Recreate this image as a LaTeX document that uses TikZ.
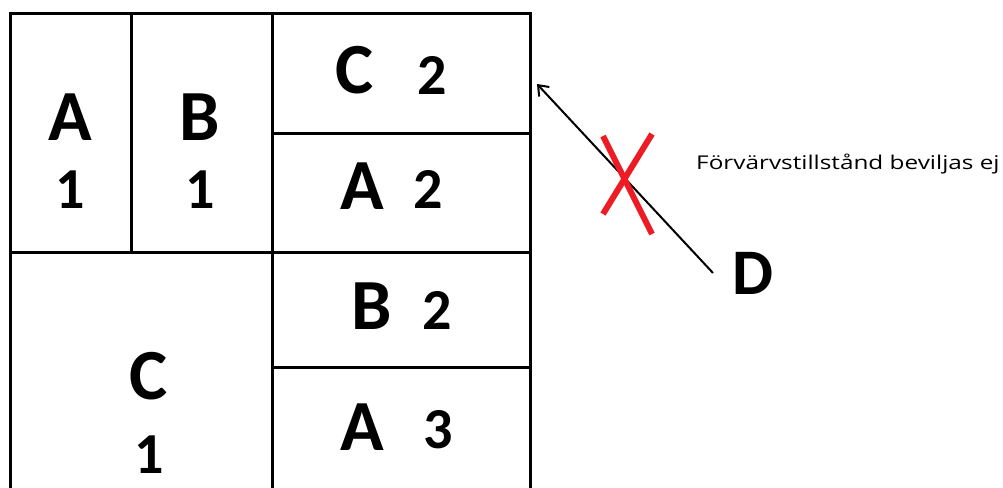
\documentclass[tikz,border=0pt]{standalone}
\usepackage{fontspec}
\usepackage{graphicx}
\setmainfont{Carlito}
\newfontfamily\notefont{Open Sans}
\usetikzlibrary{arrows.meta}
\tikzset{
  grid line/.style={line width=3pt, black},
  letter/.style={inner sep=0pt, font=\fontsize{72}{72}\selectfont\bfseries},
  digit/.style={inner sep=0pt, font=\fontsize{58}{58}\selectfont\bfseries},
  caption/.style={inner sep=0pt, anchor=west, font=\notefont\fontsize{19}{19}\selectfont},
  cross/.style={line width=6pt, draw={rgb,255:red,237;green,28;blue,36}},
}
\begin{document}
\begin{tikzpicture}[x=1pt,y=-1pt]
\useasboundingbox (0,0) rectangle (1003,487);
\fill[white] (0,0) rectangle (1003,487);
\begin{scope}
\clip (0,0) rectangle (1003,487);
% plot outline, continuing past the lower edge
\draw[grid line] (10,14) rectangle (530,500);
\draw[grid line] (131,14) -- (131,252);
\draw[grid line] (272,14) -- (272,500);
\draw[grid line] (10,252) -- (530,252);
\draw[grid line] (272,133) -- (530,133);
\draw[grid line] (272,367) -- (530,367);
\end{scope}

% plot labels
\node[letter] (a1l) at (70,117) {A};
\node[digit]  (a1n) at (70,190) {1};
\node[letter] (b1l) at (200,117) {B};
\node[digit]  (b1n) at (200,190) {1};
\node[letter] (c2l) at (355,70) {C};
\node[digit]  (c2n) at (432,75) {2};
\node[letter] (a2l) at (362,186) {A};
\node[digit]  (a2n) at (428,189) {2};
\node[letter] (b2l) at (372,306) {B};
\node[digit]  (b2n) at (437,310) {2};
\node[letter] (a3l) at (362,427) {A};
\node[digit]  (a3n) at (438,430) {3};
\node[letter] (c1l) at (149,376) {C};
\node[digit]  (c1n) at (149,455) {1};

% buyer D and the refused transfer
\node[inner sep=0pt, font=\fontsize{65}{65}\selectfont\bfseries] (d) at (753,273) {D};
\coordinate (target) at (537,84);
\draw[line width=2pt, -{Straight Barb[length=9pt,width=14pt,line width=2pt]}]
  (713,273) -- (target);
\draw[cross] (603,136) -- (652,234);
\draw[cross] (652,134) -- (603,214);
\node[caption] (note) at (696,164) {\scalebox{1.28}[1]{Förvärvstillstånd beviljas ej}};
\end{tikzpicture}
\end{document}
